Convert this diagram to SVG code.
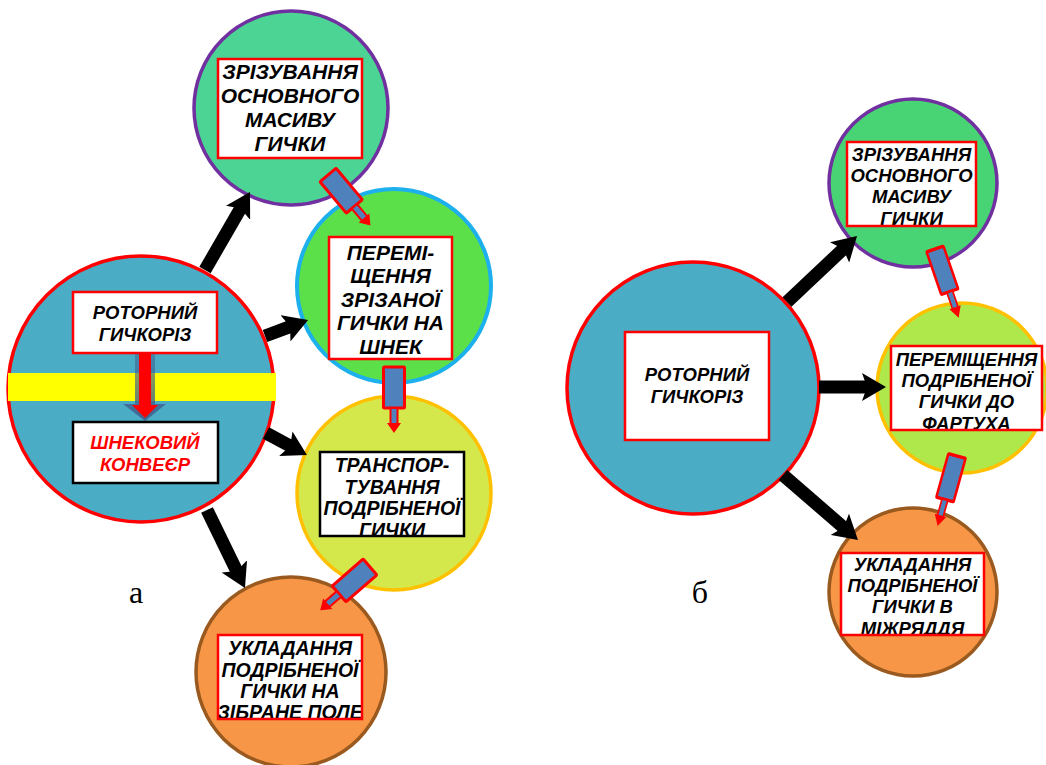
<svg xmlns="http://www.w3.org/2000/svg" width="1046" height="765" viewBox="0 0 1046 765">
<defs>
<style>
.t{font-family:"Liberation Sans",Arial,sans-serif;font-weight:bold;font-style:italic;text-anchor:middle;fill:#000}
.f21{font-size:21px}
.f19{font-size:19.5px}
.f18{font-size:18.5px}
.red{fill:#ff0000}
.box{fill:#fff;stroke:#ff0000;stroke-width:2.5}
.boxk{fill:#fff;stroke:#000;stroke-width:2.5}
.bs{fill:none;stroke:#ff0000;stroke-width:2.5}
.bsk{fill:none;stroke:#000;stroke-width:2.5}
.arr{stroke:#000;stroke-width:13;fill:none;marker-end:url(#ah)}
.lbl{font-family:"Liberation Serif","Times New Roman",serif;font-size:32px;text-anchor:middle;fill:#000}
.rot{fill:#4bacc6;stroke:#ff0000;stroke-width:3.5}
.grn{stroke:#7030a0;stroke-width:3.5}
.org{fill:#f79646;stroke:#9a5a1f;stroke-width:3.5}
</style>
<marker id="ah" markerUnits="userSpaceOnUse" viewBox="0 0 24 28" refX="12" refY="14" markerWidth="24" markerHeight="28" orient="auto">
<path d="M0,0 L24,14 L0,28 L5,14 Z" fill="#000"/>
</marker>
<linearGradient id="sh" x1="0" y1="0" x2="0" y2="1">
<stop offset="0" stop-color="#3f5f8f" stop-opacity="0.5"/>
<stop offset="1" stop-color="#3f5f8f" stop-opacity="0.9"/>
</linearGradient>
<clipPath id="c1"><rect x="218" y="59" width="144" height="99"/></clipPath>
<clipPath id="c2"><rect x="320" y="452" width="144" height="84"/></clipPath>
<clipPath id="c3"><rect x="218" y="635" width="144" height="84"/></clipPath>
<clipPath id="c4"><rect x="847" y="142" width="129" height="84"/></clipPath>
<clipPath id="c5"><rect x="891" y="346" width="151" height="84"/></clipPath>
<clipPath id="c6"><rect x="841" y="553" width="143" height="82"/></clipPath>
<g id="pipe">
<rect x="-10.5" y="0" width="21" height="41" rx="1" fill="#4f81bd" stroke="#ff0000" stroke-width="3"/>
<rect x="-3.5" y="41" width="7" height="17" fill="#4f81bd" stroke="#ff0000" stroke-width="2"/>
<path d="M-7,56 L7,56 L0,66 Z" fill="#ff0000"/>
</g>
</defs>
<rect width="1046" height="765" fill="#fff"/>

<!-- LEFT DIAGRAM -->
<g id="rotor-a">
<circle class="rot" cx="141" cy="389" r="133"/>
<rect x="8" y="373" width="268" height="28" fill="#ffff00"/>
<polygon points="135,353 155,353 155,404 166,404 145,421 123,404 135,404" fill="url(#sh)"/>
<polygon points="139,353 151,353 151,405 158,405 145,418 132,405 139,405" fill="#ff0000"/>
<rect class="box" x="73" y="292" width="144" height="61"/>
<text class="t f18" x="145" y="319">РОТОРНИЙ</text>
<text class="t f18" x="145" y="341">ГИЧКОРІЗ</text>
<rect class="boxk" x="73" y="422" width="145" height="61"/>
<text class="t f18 red" x="145" y="449">ШНЕКОВИЙ</text>
<text class="t f18 red" x="145" y="471">КОНВЕЄР</text>
</g>

<g id="cut-a">
<circle class="grn" cx="291" cy="108" r="97" fill="#4bd494"/>
<rect x="218" y="59" width="144" height="99" fill="#fff"/>
<g clip-path="url(#c1)">
<text class="t f21" x="290" y="79">ЗРІЗУВАННЯ</text>
<text class="t f21" x="290" y="103">ОСНОВНОГО</text>
<text class="t f21" x="290" y="127">МАСИВУ</text>
<text class="t f21" x="290" y="151">ГИЧКИ</text>
</g>
<rect class="bs" x="218" y="59" width="144" height="99"/>
</g>

<g id="move-a">
<circle cx="394" cy="286" r="97" fill="#5ce04a" stroke="#1cb0ec" stroke-width="4"/>
<rect class="box" x="329" y="237" width="123" height="122"/>
<text class="t f21" x="390.5" y="259.5">ПЕРЕМІ-</text>
<text class="t f21" x="390.5" y="283">ЩЕННЯ</text>
<text class="t f21" x="390.5" y="306.5">ЗРІЗАНОЇ</text>
<text class="t f21" x="390.5" y="330">ГИЧКИ НА</text>
<text class="t f21" x="390.5" y="353.5">ШНЕК</text>
</g>

<g id="transport-a">
<circle cx="394" cy="493" r="97" fill="#d4e84b" stroke="#ffc000" stroke-width="3.5"/>
<rect x="320" y="452" width="144" height="84" fill="#fff"/>
<g clip-path="url(#c2)">
<text class="t f19" x="392" y="472">ТРАНСПОР-</text>
<text class="t f19" x="392" y="494">ТУВАННЯ</text>
<text class="t f19" x="392" y="515">ПОДРІБНЕНОЇ</text>
<text class="t f19" x="392" y="537">ГИЧКИ</text>
</g>
<rect class="bsk" x="320" y="452" width="144" height="84"/>
</g>

<g id="lay-a">
<circle class="org" cx="291" cy="672" r="95"/>
<rect x="218" y="635" width="144" height="84" fill="#fff"/>
<g clip-path="url(#c3)">
<text class="t f19" x="290" y="655">УКЛАДАННЯ</text>
<text class="t f19" x="290" y="677">ПОДРІБНЕНОЇ</text>
<text class="t f19" x="290" y="698">ГИЧКИ НА</text>
<text class="t f19" x="290" y="719">ЗІБРАНЕ ПОЛЕ</text>
</g>
<rect class="bs" x="218" y="635" width="144" height="84"/>
</g>

<text class="lbl" x="136" y="603">а</text>

<!-- RIGHT DIAGRAM -->
<g id="rotor-b">
<circle class="rot" cx="693" cy="388" r="126"/>
<rect class="box" x="625" y="332" width="144" height="108"/>
<text class="t f18" x="697" y="381">РОТОРНИЙ</text>
<text class="t f18" x="697" y="403">ГИЧКОРІЗ</text>
</g>

<g id="cut-b">
<circle class="grn" cx="913" cy="183" r="84" fill="#48d475"/>
<rect x="847" y="142" width="129" height="84" fill="#fff"/>
<g clip-path="url(#c4)">
<text class="t f18" x="911.5" y="161">ЗРІЗУВАННЯ</text>
<text class="t f18" x="911.5" y="182">ОСНОВНОГО</text>
<text class="t f18" x="911.5" y="203">МАСИВУ</text>
<text class="t f18" x="911.5" y="225">ГИЧКИ</text>
</g>
<rect class="bs" x="847" y="142" width="129" height="84"/>
</g>

<g id="move-b">
<circle cx="962" cy="388" r="85" fill="#afe84b" stroke="#ffc000" stroke-width="3.5"/>
<rect x="891" y="346" width="151" height="84" fill="#fff"/>
<g clip-path="url(#c5)">
<text class="t f18" x="966.5" y="366">ПЕРЕМІЩЕННЯ</text>
<text class="t f18" x="966.5" y="387">ПОДРІБНЕНОЇ</text>
<text class="t f18" x="966.5" y="408">ГИЧКИ ДО</text>
<text class="t f18" x="966.5" y="430">ФАРТУХА</text>
</g>
<rect class="bs" x="891" y="346" width="151" height="84"/>
</g>

<g id="lay-b">
<circle class="org" cx="913" cy="592" r="84"/>
<rect x="841" y="553" width="143" height="82" fill="#fff"/>
<g clip-path="url(#c6)">
<text class="t f18" x="912.5" y="571">УКЛАДАННЯ</text>
<text class="t f18" x="912.5" y="592">ПОДРІБНЕНОЇ</text>
<text class="t f18" x="912.5" y="613">ГИЧКИ В</text>
<text class="t f18" x="912.5" y="635">МІЖРЯДДЯ</text>
</g>
<rect class="bs" x="841" y="553" width="143" height="82"/>
</g>

<text class="lbl" x="700" y="603">б</text>

<!-- CONNECTORS -->
<g id="connectors">
<line class="arr" x1="205" y1="270" x2="244" y2="202.4"/>
<line class="arr" x1="265" y1="336" x2="296.8" y2="324.2"/>
<line class="arr" x1="266" y1="433" x2="296.4" y2="449.4"/>
<line class="arr" x1="207" y1="510" x2="239.7" y2="577.2"/>
<line class="arr" x1="787" y1="302" x2="848.3" y2="244.2"/>
<line class="arr" x1="819" y1="387" x2="874" y2="387"/>
<line class="arr" x1="783" y1="475" x2="848.9" y2="532.1"/>
<use href="#pipe" transform="translate(328,175) rotate(-40)"/>
<use href="#pipe" transform="translate(394,367)"/>
<use href="#pipe" transform="translate(370,567) rotate(49)"/>
<use href="#pipe" transform="translate(935,249) rotate(-19) scale(0.85,1.1)"/>
<use href="#pipe" transform="translate(957,456) rotate(15.5) scale(0.85,1.1)"/>
</g>
</svg>
